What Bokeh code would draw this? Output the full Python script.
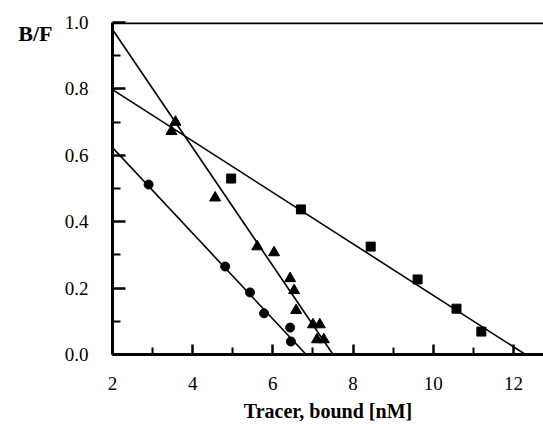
from bokeh.plotting import figure
from bokeh.models import FixedTicker, Span, LinearAxis, CustomJSTickFormatter
from bokeh.embed import file_html
from bokeh.resources import INLINE

# Data
circle_x = [2.9, 4.81, 5.43, 5.78, 6.43, 6.45]
circle_y = [0.512, 0.265, 0.187, 0.124, 0.081, 0.039]

triangle_x = [3.47, 3.57, 4.56, 5.61, 6.03, 6.43, 6.53, 6.58, 7.0, 7.17, 7.1, 7.27]
triangle_y = [0.672, 0.70, 0.472, 0.325, 0.307, 0.229, 0.193, 0.133, 0.09, 0.09, 0.045, 0.045]

square_x = [4.96, 6.7, 8.44, 9.61, 10.58, 11.2]
square_y = [0.53, 0.437, 0.325, 0.226, 0.138, 0.069]

# Fitted lines: value at x=2 and x-intercept
fit_y_at_start = [0.623, 0.979, 0.798]
fit_x_intercept = [6.83, 7.5, 12.3]

x_ticks = [2, 4, 6, 8, 10, 12]
x_minor = [3, 5, 7, 9, 11]
y_ticks = [0.0, 0.2, 0.4, 0.6, 0.8, 1.0]
y_minor = [0.1, 0.3, 0.5, 0.7, 0.9]

y_title = "B/F"
y_title_pos = 0.966

FONT = "Liberation Serif"

p = figure(width=543, height=424, x_range=(2, 12.75), y_range=(0, 1.0),
           output_backend="svg", toolbar_location=None,
           min_border_left=112, min_border_right=0, min_border_top=22,
           min_border_bottom=69)
p.outline_line_color = None
p.grid.visible = False
p.background_fill_color = "white"
p.border_fill_color = "white"

for ax in (p.xaxis[0], p.yaxis[0]):
    ax.axis_line_width = 3
    ax.axis_line_color = "black"
    ax.major_tick_line_width = 2.5
    ax.minor_tick_line_width = 2
    ax.major_tick_line_color = "black"
    ax.minor_tick_line_color = "black"
    ax.major_tick_out = 0
    ax.minor_tick_out = 0
    ax.major_label_text_font = FONT
    ax.major_label_text_font_size = "19px"
    ax.major_label_text_color = "black"

p.xaxis.ticker = FixedTicker(ticks=x_ticks, minor_ticks=x_minor)
p.yaxis.ticker = FixedTicker(ticks=y_ticks, minor_ticks=y_minor)
p.xaxis.major_tick_in = 10
p.xaxis.minor_tick_in = 7
p.yaxis.major_tick_in = 13
p.yaxis.minor_tick_in = 8
p.xaxis.major_label_standoff = 22
p.yaxis.major_label_standoff = 24
p.yaxis.formatter = CustomJSTickFormatter(code="return tick.toFixed(1);")

p.xaxis.axis_label = "Tracer, bound [nM]"
p.xaxis.axis_label_text_font = FONT
p.xaxis.axis_label_text_font_style = "bold"
p.xaxis.axis_label_text_font_size = "20px"
p.xaxis.axis_label_text_color = "black"
p.xaxis.axis_label_standoff = 7

# "B/F" title as an extra, line-less axis to the left
title_axis = LinearAxis(ticker=FixedTicker(ticks=[y_title_pos], minor_ticks=[]),
                        major_label_overrides={y_title_pos: y_title})
title_axis.axis_line_color = None
title_axis.major_tick_line_color = None
title_axis.minor_tick_line_color = None
title_axis.major_label_text_font = FONT
title_axis.major_label_text_font_style = "bold"
title_axis.major_label_text_font_size = "22px"
title_axis.major_label_text_color = "black"
title_axis.major_label_standoff = 3
p.add_layout(title_axis, "left")

# top border line
p.add_layout(Span(location=1.0, dimension="width", line_color="black", line_width=3.5))

# fitted lines
for y0, xi in zip(fit_y_at_start, fit_x_intercept):
    p.line([2, xi], [y0, 0], line_color="black", line_width=1.6)

# markers
p.scatter(circle_x, circle_y, marker="circle", size=9, color="black")
p.scatter(triangle_x, triangle_y, marker="triangle", size=11, color="black")
p.scatter(square_x, square_y, marker="square", size=9, color="black")

open("out.html", "w").write(file_html(p, INLINE))
